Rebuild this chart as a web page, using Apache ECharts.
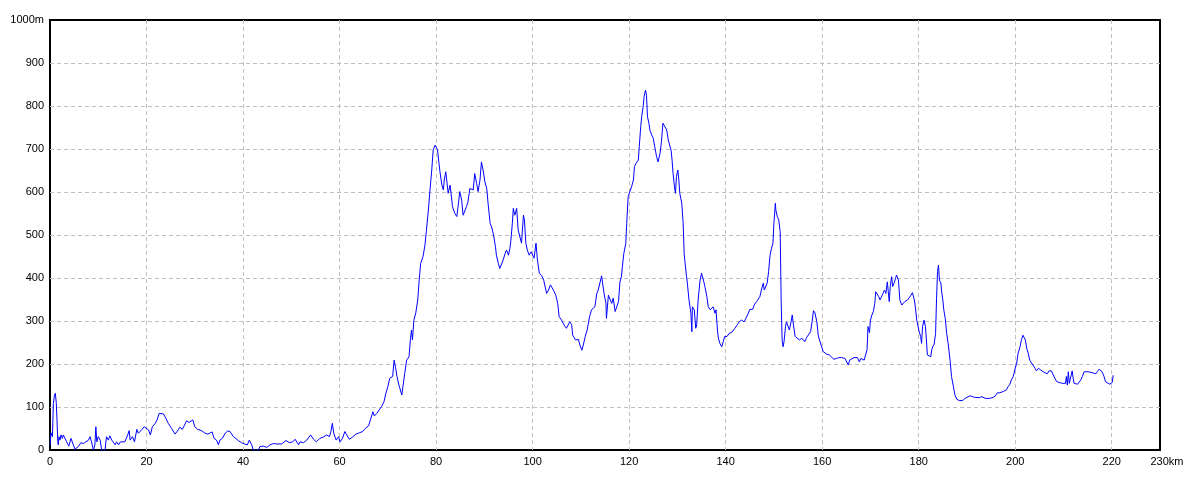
<!DOCTYPE html>
<html>
<head>
<meta charset="utf-8">
<script src="https://cdn.jsdelivr.net/npm/echarts@6/dist/echarts.min.js"></script>
<style>html,body{margin:0;padding:0;background:#fff}#c{width:1200px;height:480px}</style>
</head>
<body>
<div id="c"></div>
<script>
// distance along route (km)
const dist = [0,0.2,0.5,0.7,0.9,1.1,1.3,1.45,1.6,1.7,1.86,2.07,2.3,2.55,2.76,3.1,3.45,3.9,4.35,4.6,4.83,5.2,5.5,5.87,6.4,6.9,7.4,7.9,8.3,8.6,9.0,9.3,9.5,9.7,10.0,10.4,10.7,11.0,11.4,11.7,12.1,12.4,12.8,13.1,13.5,13.8,14.2,14.6,15.0,15.5,16.1,16.4,16.6,17.1,17.5,18.0,18.3,19.0,19.5,19.9,20.4,20.8,21.2,21.8,22.2,22.6,22.8,23.5,24.0,24.5,25.2,25.9,26.4,26.9,27.4,27.8,28.3,28.8,29.2,29.6,30.0,30.6,31.4,32.0,32.7,33.1,33.6,34.0,34.5,34.9,35.2,35.7,36.3,36.8,37.3,37.5,38.0,38.5,39.0,39.7,40.3,
40.9,41.3,41.6,41.8,42.1,42.5,43.2,43.5,44.2,44.9,45.6,46.3,47.0,48.0,48.9,49.6,50.3,50.8,51.5,51.8,52.5,53.2,53.5,54.0,54.6,55.2,55.9,56.6,57.3,57.9,58.2,58.5,58.8,59.3,59.8,60.1,60.6,61.1,61.5,62.0,62.7,63.4,64.1,64.8,65.3,66.0,66.4,66.9,67.2,67.7,68.2,68.7,69.2,69.6,70.0,70.4,71.0,71.3,71.6,71.9,72.3,72.9,73.2,73.5,73.9,74.4,74.7,74.9,75.1,75.4,75.8,76.2,76.5,76.8,77.3,77.7,78.0,78.4,78.7,79.1,79.4,79.8,80.1,80.3,80.6,80.8,81.2,81.5,81.7,82.0,82.2,82.5,82.9,83.1,83.4,83.9,84.3,84.6,84.9,85.3,85.6,86.0,86.3,86.6,87.0,87.4,87.7,88.0,88.4,88.7,89.1,89.4,89.8,90.1,90.5,90.8,91.2,91.5,91.9,92.3,92.5,92.9,93.2,93.6,93.9,94.3,94.6,95.0,95.3,95.5,95.8,96.0,96.3,96.7,97.0,97.4,97.7,98.1,98.3,98.6,98.9,99.3,99.7,100.0,100.3,100.7,101.0,101.4,101.9,102.3,102.6,102.9,103.3,103.7,104.3,104.8,105.2,105.5,106.0,106.5,107.0,107.4,107.7,108.1,108.3,108.6,108.9,109.1,109.5,109.8,110.2,110.5,110.9,111.3,111.8,112.2,112.6,112.9,113.3,113.6,114.0,114.3,114.5,114.8,115.2,115.3,115.7,116.0,116.4,116.7,117.1,117.4,117.8,118.1,118.4,118.6,118.9,119.3,119.5,119.8,120.2,120.5,120.9,121.1,121.4,121.7,121.9,122.1,122.4,122.6,122.9,123.1,123.4,123.6,123.8,124.1,124.3,124.7,125.0,125.3,125.7,126.0,126.4,126.7,127.0,127.4,127.8,128.1,128.5,128.7,128.9,129.1,129.4,129.6,129.8,130.1,130.3,130.5,130.9,131.2,131.4,131.6,131.9,132.1,132.4,132.8,133.0,133.1,133.5,133.8,134.0,134.3,134.7,135.0,135.4,135.7,136.1,136.4,136.8,137.1,137.4,137.8,138.0,138.3,138.5,138.8,139.2,139.5,139.8,140.3,140.7,141.1,141.4,141.9,142.4,142.8,143.3,143.8,144.2,144.7,145.0,145.6,145.9,146.4,146.8,147.1,147.4,147.8,148.0,148.3,148.6,148.9,149.2,149.5,149.8,150.0,150.3,150.4,150.7,151.0,151.3,151.5,151.7,151.9,152.1,152.4,152.6,153.0,153.2,153.5,153.8,154.0,154.4,154.7,155.3,155.8,
156.4,156.8,157.2,157.6,157.9,158.2,158.5,158.9,159.2,159.5,159.9,160.2,160.6,160.9,161.5,161.9,162.4,163.0,163.5,164.0,164.7,165.0,165.4,165.7,166.1,166.6,167.0,167.3,167.7,168.0,168.4,168.7,169.0,169.3,169.5,169.8,170.0,170.3,170.6,170.9,171.1,171.4,171.7,172.0,172.3,172.6,172.9,173.2,173.5,173.7,173.9,174.1,174.4,174.6,174.9,175.2,175.4,175.6,175.8,176.1,176.5,176.8,177.1,177.3,177.7,178.0,178.4,178.7,178.9,179.1,179.3,179.6,179.9,180.1,180.4,180.6,180.8,181.1,181.4,181.6,181.8,182.2,182.5,182.7,182.9,183.2,183.5,183.7,183.9,184.1,184.3,184.6,184.8,185.0,185.2,185.5,185.8,186.1,186.5,186.8,187.2,187.5,187.9,188.4,189.1,189.6,190.0,190.6,191.2,191.7,192.1,192.6,193.1,193.4,193.8,194.2,194.6,
195.4,195.9,196.3,196.8,197.2,197.5,197.9,198.2,198.5,198.9,199.2,199.6,199.9,200.3,200.6,201.0,201.3,201.6,201.9,202.1,202.4,202.7,203.0,203.4,203.7,204.1,204.4,204.8,205.0,205.3,205.8,206.1,206.6,207.0,207.5,207.9,208.2,208.6,209.1,209.5,209.8,210.1,210.4,210.6,210.8,211.0,211.2,211.4,211.6,211.8,212.0,212.2,212.5,212.9,213.3,213.6,213.9,214.3,214.6,215.1,215.5,215.9,216.2,216.7,217.0,217.4,217.7,218.0,218.4,218.7,219.1,219.6,219.9,220.1,220.3];
// elevation (m)
const elev = [10,40,31,108,125,132,110,70,23,12,31,23,35,27,35,31,19,9,27,27,12,2,2,8,17,15,19,22,31,19,0,12,54,19,31,23,0,0,0,31,23,33,23,19,12,19,12,19,23,19,35,45,23,31,19,48,39,47,54,56,47,35,54,62,70,85,88,84,74,62,50,37,44,53,48,56,68,64,66,70,54,48,45,40,37,35,42,27,23,12,23,27,39,44,43,47,31,27,22,17,14,
12,23,19,12,0,0,0,8,9,6,12,15,14,14,22,17,19,25,12,19,17,23,19,35,25,19,27,30,35,31,43,62,39,23,31,19,27,43,35,25,30,37,40,43,50,56,70,89,79,85,93,101,112,132,147,167,171,209,192,171,151,128,132,178,209,217,260,279,256,302,319,349,395,434,450,477,511,558,600,651,698,709,709,698,667,647,616,605,628,647,628,597,616,597,566,550,543,570,601,581,546,543,566,577,608,612,605,643,620,601,628,670,647,624,608,570,527,519,500,473,453,434,422,426,442,457,465,453,469,488,527,562,546,562,512,512,481,546,535,481,465,453,461,457,446,481,442,411,405,395,399,364,372,384,372,360,341,310,302,291,283,279,298,291,267,264,256,252,257,244,232,244,264,279,310,326,322,333,364,372,391,405,388,364,341,306,360,364,341,353,322,322,345,391,403,426,457,480,527,589,589,612,628,659,666,663,674,705,752,775,798,822,837,825,775,760,744,732,725,705,682,670,690,717,760,763,744,721,721,697,674,643,612,597,636,651,628,597,574,527,457,434,403,384,349,318,275,333,326,283,291,349,395,411,395,380,357,333,326,326,333,318,326,279,260,248,240,252,264,264,271,267,275,283,291,298,302,298,306,318,327,327,337,345,349,357,372,388,372,376,388,415,453,469,481,527,574,558,543,535,508,349,256,240,252,287,298,298,279,295,314,295,264,260,256,260,
252,262,260,275,298,324,319,298,265,262,240,229,233,223,221,217,211,213,215,215,213,213,198,209,211,215,211,215,205,213,215,209,211,233,287,273,302,314,322,341,368,372,357,349,353,364,372,364,391,368,345,380,403,380,388,399,407,411,395,349,337,333,345,341,349,353,360,366,364,349,333,302,298,275,264,248,287,302,287,256,221,219,217,233,240,246,271,353,415,430,395,388,364,349,326,306,271,248,209,171,147,128,118,115,115,120,122,126,124,122,121,122,124,124,120,116,120,
122,126,133,133,130,136,136,140,147,153,163,171,186,202,225,240,257,267,265,256,236,225,209,202,198,190,184,190,192,186,182,178,177,184,184,180,167,159,157,153,155,151,155,171,151,182,155,151,174,184,167,155,157,153,155,163,171,182,186,182,180,180,177,177,182,188,190,182,171,159,157,153,153,157,174];

const xMax = 230, yMax = 1000;
const data = dist.map((d, i) => [d, elev[i]]);

const chart = echarts.init(document.getElementById('c'), null, {renderer: 'canvas'});
const labelFont = {color: '#000', fontSize: 11, fontFamily: 'Liberation Sans, Arial, sans-serif'};
const gridLine = {show: true, showMinLine: false, showMaxLine: false, lineStyle: {color: '#c0c0c0', type: [4, 3], width: 1}};
chart.setOption({
  animation: false,
  backgroundColor: '#fff',
  grid: {left: 50, right: 40, top: 20, bottom: 30, show: true, borderColor: '#000', borderWidth: 2, backgroundColor: 'transparent'},
  xAxis: {
    type: 'value', min: 0, max: xMax, interval: 20,
    axisLine: {show: false}, axisTick: {show: false},
    splitLine: gridLine,
    axisLabel: Object.assign({
      margin: 6, showMaxLabel: true,
      formatter: v => v === xMax ? '{u|' + xMax + 'km}' : String(v),
      rich: {u: {color: '#000', fontSize: 11, fontFamily: 'Liberation Sans, Arial, sans-serif', padding: [0, 0, 0, 14]}}
    }, labelFont)
  },
  yAxis: {
    type: 'value', min: 0, max: yMax, interval: 100,
    axisLine: {show: false}, axisTick: {show: false},
    splitLine: gridLine,
    axisLabel: Object.assign({margin: 6, showMaxLabel: true, formatter: v => v === yMax ? yMax + 'm' : String(v)}, labelFont)
  },
  series: [{
    type: 'line', data: data, showSymbol: false, symbol: 'none',
    lineStyle: {color: '#0000ff', width: 1}, smooth: false, z: 1, clip: true
  }]
});
</script>
</body>
</html>
